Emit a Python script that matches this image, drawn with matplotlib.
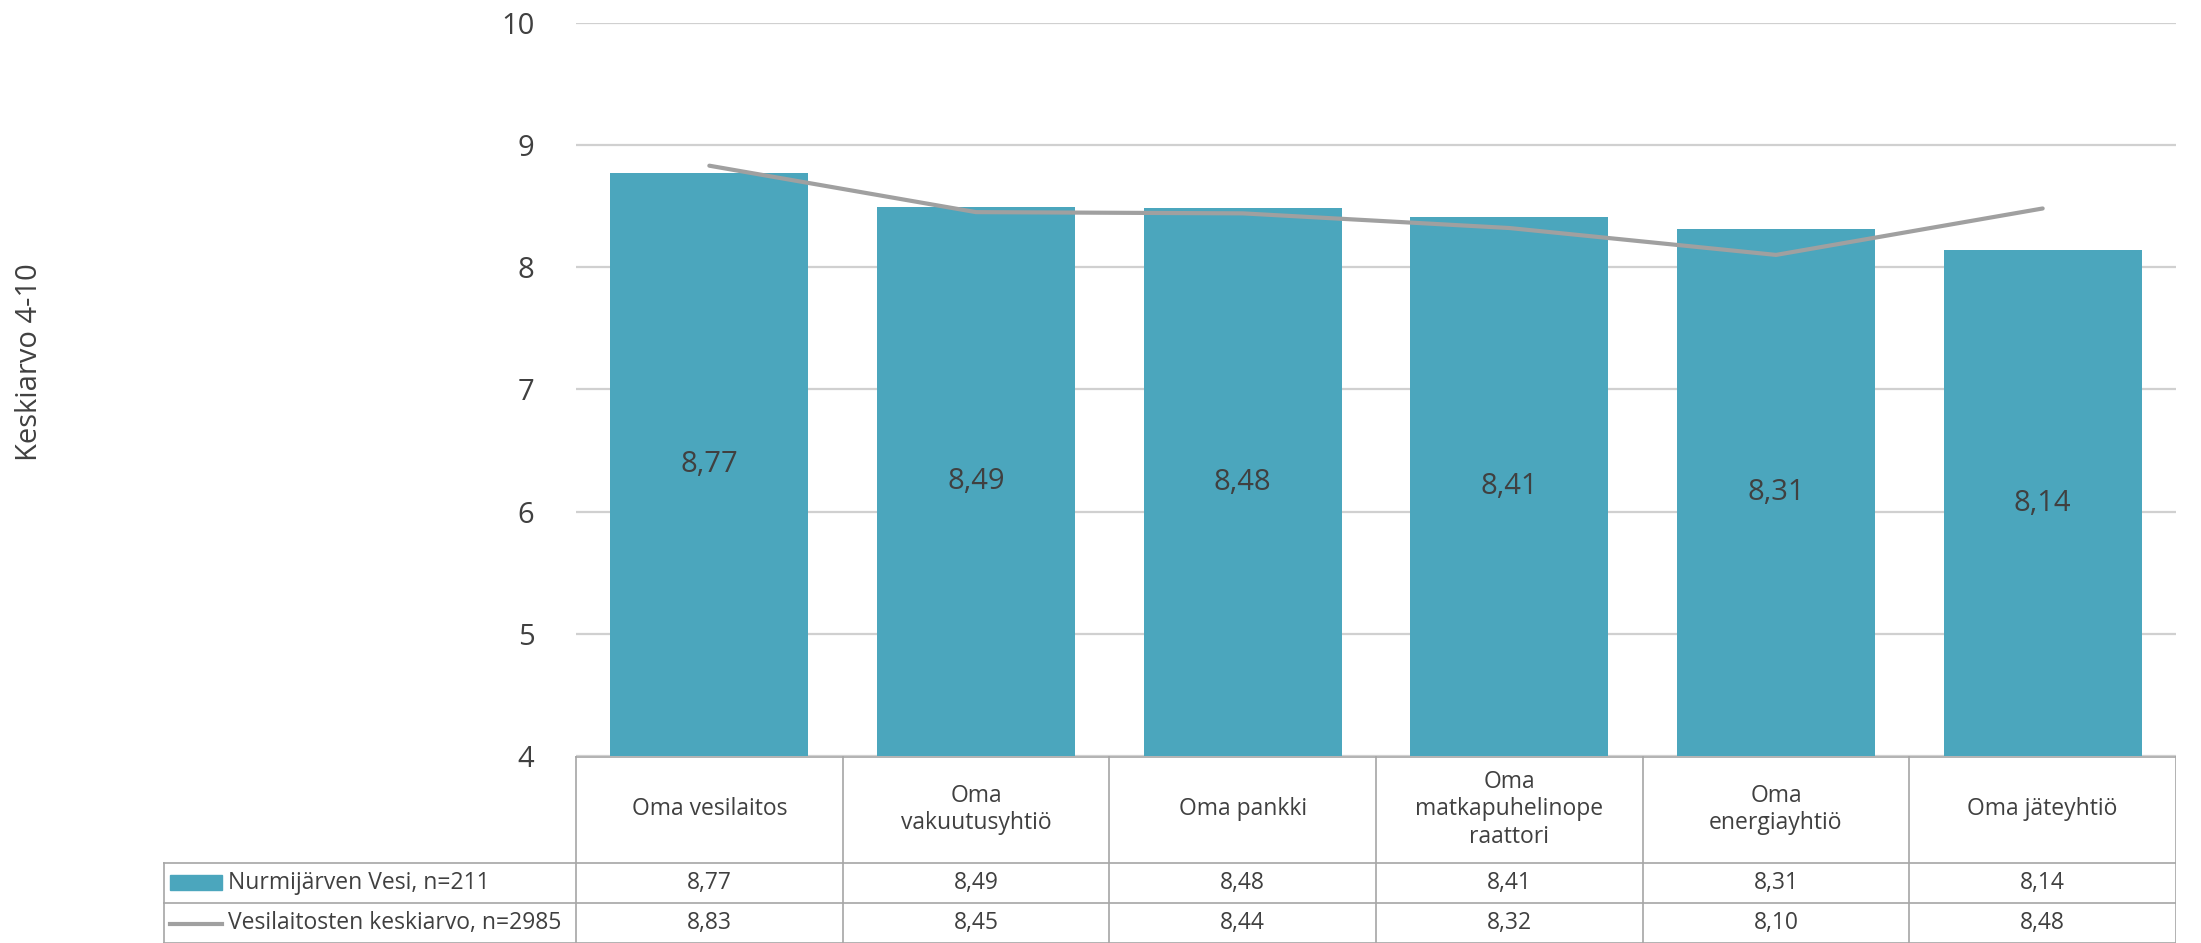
import matplotlib
matplotlib.use("Agg")
import matplotlib.pyplot as plt
from matplotlib.patches import Rectangle

# data
categories = ["Oma vesilaitos", "Oma\nvakuutusyhtiö", "Oma pankki",
              "Oma\nmatkapuhelinope\nraattori", "Oma\nenergiayhtiö", "Oma jäteyhtiö"]
nurmijarvi = [8.77, 8.49, 8.48, 8.41, 8.31, 8.14]
keskiarvo = [8.83, 8.45, 8.44, 8.32, 8.10, 8.48]
series_names = ["Nurmijärven Vesi, n=211", "Vesilaitosten keskiarvo, n=2985"]
yticks = [4, 5, 6, 7, 8, 9, 10]

BAR = "#4BA6BD"
LINE = "#A0A0A0"
TXT = "#404040"
GRID = "#D0D0D0"
BORDER = "#A6A6A6"

W, H = 2201, 943
FONT = ["Open Sans", "DejaVu Sans"]
TAB_FS = 16.5


def fmt(v):
    return "{:.2f}".format(v).replace(".", ",")


fig = plt.figure(figsize=(W / 100, H / 100), dpi=100)

# plot area in pixels
px_l, px_r, px_t, px_b = 576, 2176, 22.7, 756
ax = fig.add_axes([px_l / W, 1 - px_b / H, (px_r - px_l) / W, (px_b - px_t) / H])
x = list(range(len(categories)))
ax.bar(x, [v - 4 for v in nurmijarvi], bottom=4, width=0.743, color=BAR, zorder=2)
ax.plot(x, keskiarvo, color=LINE, lw=3, zorder=3, solid_capstyle="round")
for xi, v in zip(x, nurmijarvi):
    ax.text(xi, (4 + v) / 2, fmt(v), ha="center", va="center", color=TXT,
            fontsize=21, family=FONT, zorder=4)

ax.set_xlim(-0.5, len(categories) - 0.5)
ax.set_ylim(4, 10)
ax.set_yticks(yticks)
ax.set_yticklabels([str(t) for t in yticks], fontsize=21, color=TXT, family=FONT)
ax.tick_params(axis="y", length=0, pad=30)
ax.set_xticks([])
ax.yaxis.grid(True, color=GRID, lw=1.6, zorder=0)
for s in ax.spines.values():
    s.set_visible(False)

fig.text(30 / W, 1 - 362 / H, "Keskiarvo 4-10", rotation=90, ha="center", va="center",
         fontsize=21, color=TXT, family=FONT)

# data table under the chart
colw = (px_r - px_l) / len(categories)
t_left = 163
xl = -0.5 - (px_l - t_left) / colw
tab = fig.add_axes([t_left / W, 0, (px_r - t_left) / W, (H - px_b) / H])
tab.set_xlim(xl, len(categories) - 0.5)
tab.set_ylim(H, px_b)
tab.axis("off")

r0, r1, r2, r3 = px_b, 862.7, 903.3, 942.5
lw_b = 1.2
tab.plot([-0.5, len(categories) - 0.5], [r0 + 0.5, r0 + 0.5], color=BORDER, lw=lw_b)
for yy in (r1, r2, r3):
    tab.plot([xl, len(categories) - 0.5], [yy, yy], color=BORDER, lw=lw_b)
for i in range(len(categories) + 1):
    tab.plot([i - 0.5, i - 0.5], [r0, r3], color=BORDER, lw=lw_b)
tab.plot([xl + 0.003, xl + 0.003], [r1, r3], color=BORDER, lw=lw_b)

for i, c in enumerate(categories):
    tab.text(i, (r0 + r1) / 2, c, ha="center", va="center", fontsize=TAB_FS, color=TXT,
             family=FONT, linespacing=1.2)
    tab.text(i, (r1 + r2) / 2, fmt(nurmijarvi[i]), ha="center", va="center",
             fontsize=TAB_FS, color=TXT, family=FONT)
    tab.text(i, (r2 + r3) / 2, fmt(keskiarvo[i]), ha="center", va="center",
             fontsize=TAB_FS, color=TXT, family=FONT)

# legend keys inside the table
k0 = -0.5 - (px_l - 170) / colw
k1 = -0.5 - (px_l - 222) / colw
tab.add_patch(Rectangle((k0, 875), k1 - k0, 15, color=BAR))
tab.plot([k0, k1], [924, 924], color=LINE, lw=3)
tx = -0.5 - (px_l - 228) / colw
tab.text(tx, (r1 + r2) / 2, series_names[0], ha="left", va="center", fontsize=TAB_FS,
         color=TXT, family=FONT)
tab.text(tx, (r2 + r3) / 2, series_names[1], ha="left", va="center", fontsize=TAB_FS,
         color=TXT, family=FONT)

fig.savefig("out.png", dpi=100)
